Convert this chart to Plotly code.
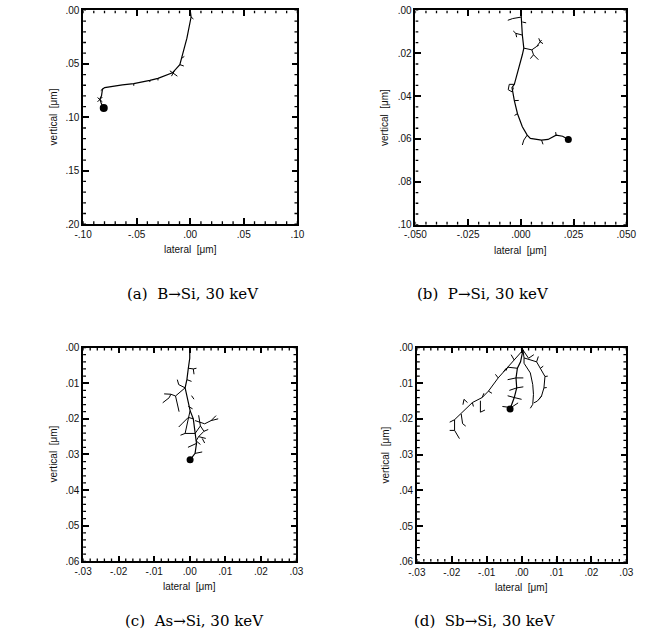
import plotly.graph_objects as go

# ---------------- data (µm) ----------------
# (a) B -> Si
a_path_x = [0.0, 0.0008, -0.0031, -0.0076, -0.0097, -0.0166, -0.0301, -0.0377, -0.0527, -0.0633, -0.0798, -0.0819, -0.0828, -0.0843, -0.0828, -0.0807]
a_path_y = [0.0, 0.0062, 0.026, 0.0445, 0.0507, 0.0584, 0.0636, 0.0654, 0.0685, 0.0697, 0.0722, 0.0737, 0.0799, 0.083, 0.0876, 0.0912]
a_branch_x = [[0.0008, 0.003], [-0.0076, -0.0055], [-0.0097, -0.006], [-0.019, -0.012], [-0.0175, -0.0145],
              [-0.0301, -0.0301], [-0.0377, -0.0377], [-0.0527, -0.0527], [-0.0865, -0.082], [-0.0865, -0.082], [-0.0819, -0.0835]]
a_branch_y = [[0.0062, 0.008], [0.0445, 0.043], [0.0507, 0.052], [0.0565, 0.0615], [0.0615, 0.056],
              [0.0636, 0.0655], [0.0654, 0.067], [0.0685, 0.0705], [0.0815, 0.0855], [0.0855, 0.081], [0.0737, 0.075]]
a_end = [-0.0807, 0.0912]

# (b) P -> Si
b_path_x = [0.0, 0.0002, 0.0007, 0.0014, 0.0007, -0.0031, -0.0042, -0.0031, -0.0016, 0.0007, 0.003, 0.0045, 0.0098, 0.0129, 0.0167, 0.0198, 0.0225]
b_path_y = [0.0, 0.0054, 0.0115, 0.0176, 0.0207, 0.0345, 0.036, 0.0421, 0.0482, 0.0543, 0.0582, 0.0597, 0.0605, 0.0602, 0.0582, 0.0587, 0.0602]
b_branch_x = [[0.0002, -0.0039, -0.0062], [0.0007, -0.0024, -0.0036], [-0.0024, -0.002],
              [0.0014, 0.0052, 0.0075, 0.0091, 0.0098], [0.0085, 0.0091, 0.0105], [0.0052, 0.006, 0.0083], [0.006, 0.0045],
              [0.003, 0.0014, 0.0007], [0.0098, 0.0105], [0.0167, 0.0165], [-0.0031, -0.001], [-0.0016, -0.003],
              [0.0007, 0.0025], [-0.0031, -0.0055, -0.006, -0.0042, -0.0035], [0.0075, 0.0085]]
b_branch_y = [[0.0031, 0.0038, 0.0046], [0.0115, 0.0107, 0.0096], [0.0107, 0.0125],
              [0.0176, 0.0184, 0.0168, 0.0146, 0.0138], [0.013, 0.0146, 0.0155], [0.0184, 0.0207, 0.023], [0.0207, 0.0225],
              [0.0582, 0.0605, 0.0628], [0.0605, 0.0625], [0.0582, 0.0568], [0.0421, 0.042], [0.0482, 0.049],
              [0.0054, 0.0058], [0.0345, 0.0345, 0.037, 0.038, 0.036], [0.0168, 0.0162]]
b_end = [0.0225, 0.0602]

# (c) As -> Si
c_path_x = [0.0, 0.0, -0.0004, -0.0008, -0.0013, -0.0004, 0.0001, 0.001, 0.0015, 0.0019, 0.0015, 0.0001]
c_path_y = [0.0, 0.003, 0.0058, 0.009, 0.0113, 0.015, 0.0177, 0.02, 0.0241, 0.0269, 0.0297, 0.0315]
c_branch_x = [[-0.0004, 0.001, 0.0019], [0.001, 0.0012], [-0.0013, -0.0031, -0.0035],
              [-0.0013, -0.004, -0.0053, -0.0072], [-0.0053, -0.0058, -0.0076], [-0.004, -0.0035, -0.003],
              [0.001, -0.0004, -0.0022, -0.0031], [0.0015, 0.0042, 0.006, 0.0074], [0.006, 0.008],
              [0.0001, -0.0008, -0.0013, -0.0026], [0.0015, 0.003, 0.004, 0.0025, 0.0045], [0.003, 0.0025],
              [-0.0013, 0.0015], [0.0019, -0.0005], [0.0015, 0.0035], [0.0025, 0.0018, 0.003],
              [0.004, 0.0052], [0.0035, 0.0042], [-0.0008, 0.0005], [0.0005, 0.0012], [-0.0004, 0.0008]]
c_branch_y = [[0.0058, 0.006, 0.0058], [0.006, 0.0075], [0.0113, 0.0104, 0.009],
              [0.0113, 0.0136, 0.0131, 0.013], [0.0131, 0.0141, 0.0155], [0.0136, 0.016, 0.018],
              [0.02, 0.0196, 0.0214, 0.0223], [0.0205, 0.0214, 0.0205, 0.0191], [0.0205, 0.02],
              [0.0177, 0.0214, 0.0241, 0.0246], [0.0241, 0.022, 0.0235, 0.025, 0.0255], [0.022, 0.019],
              [0.0241, 0.0241], [0.0269, 0.028], [0.0297, 0.0293], [0.025, 0.0262, 0.0272],
              [0.0235, 0.023], [0.0255, 0.0268], [0.009, 0.0095], [0.0135, 0.0145], [0.0165, 0.0172]]
c_end = [0.0001, 0.0315]

# (d) Sb -> Si
d_path_x = [0.0, 0.0004, -0.0003, -0.0012, -0.0016, -0.0014, -0.0021, -0.003, -0.0033]
d_path_y = [0.0, 0.0007, 0.004, 0.0058, 0.0085, 0.0113, 0.014, 0.0168, 0.0172]
d_branch_x = [[0.0004, -0.0021, -0.0044, -0.0067, -0.0095, -0.0113, -0.0141, -0.0173, -0.0192, -0.0192, -0.0178],
              [0.0004, 0.0007, 0.0043, 0.0054, 0.0067, 0.0064, 0.0057, 0.0045],
              [0.0007, 0.0007, 0.0025, 0.0032, 0.0034, 0.0032, 0.0025],
              [-0.0155, -0.0165, -0.0168], [-0.0118, -0.0118, -0.0105], [-0.0173, -0.0169, -0.016],
              [-0.0192, -0.0206], [-0.0192, -0.0206], [-0.0095, -0.0085], [-0.0067, -0.0075],
              [-0.0012, -0.004, -0.0045], [-0.0016, -0.004], [-0.0016, 0.0005], [-0.0014, -0.0035], [-0.0014, 0.0005],
              [-0.0021, 0.0], [-0.0021, -0.004], [-0.003, -0.0055], [-0.003, -0.001],
              [0.0004, 0.002, 0.0035], [-0.0021, -0.003], [0.0043, 0.0048],
              [0.0067, 0.0075], [0.0064, 0.0072], [0.0057, 0.005], [0.0045, 0.0035], [0.0054, 0.0062],
              [-0.0044, -0.0052], [-0.0113, -0.0108], [-0.0141, -0.0138]]
d_branch_y = [[0.0007, 0.0035, 0.0058, 0.0085, 0.0122, 0.014, 0.0154, 0.0186, 0.0202, 0.0232, 0.0255],
              [0.0007, 0.0029, 0.004, 0.0058, 0.0081, 0.0113, 0.0136, 0.015],
              [0.0029, 0.0044, 0.0071, 0.0104, 0.0131, 0.0159, 0.017],
              [0.0154, 0.0145, 0.016], [0.0149, 0.0181, 0.0175], [0.0186, 0.0213, 0.022],
              [0.0202, 0.0209], [0.0232, 0.0232], [0.0122, 0.0128], [0.0085, 0.0075],
              [0.0058, 0.0055, 0.0065], [0.0085, 0.009], [0.0085, 0.0085], [0.0113, 0.012], [0.0113, 0.011],
              [0.014, 0.0145], [0.014, 0.0135], [0.0168, 0.0165], [0.0168, 0.0155],
              [0.0007, 0.003, 0.002], [0.0035, 0.002], [0.004, 0.0025],
              [0.0081, 0.008], [0.0113, 0.0112], [0.0136, 0.0145], [0.015, 0.0155], [0.0058, 0.0052],
              [0.0058, 0.0068], [0.014, 0.0128], [0.0154, 0.0165]]
d_end = [-0.0033, 0.0172]

# axes ticks
a_xticks = [-0.1, -0.05, 0.0, 0.05, 0.1]
a_xtext = ["-.10", "-.05", ".00", ".05", ".10"]
a_yticks = [0.0, 0.05, 0.1, 0.15, 0.2]
a_ytext = [".00", ".05", ".10", ".15", ".20"]
b_xticks = [-0.05, -0.025, 0.0, 0.025, 0.05]
b_xtext = ["-.050", "-.025", ".000", ".025", ".050"]
b_yticks = [0.0, 0.02, 0.04, 0.06, 0.08, 0.1]
b_ytext = [".00", ".02", ".04", ".06", ".08", ".10"]
cd_xticks = [-0.03, -0.02, -0.01, 0.0, 0.01, 0.02, 0.03]
cd_xtext = ["-.03", "-.02", "-.01", ".00", ".01", ".02", ".03"]
cd_yticks = [0.0, 0.01, 0.02, 0.03, 0.04, 0.05, 0.06]
cd_ytext = [".00", ".01", ".02", ".03", ".04", ".05", ".06"]
minor_steps = [0.01, 0.005, 0.002, 0.002]

captions = ["(a)  B\u2192Si, 30 keV", "(b)  P\u2192Si, 30 keV", "(c)  As\u2192Si, 30 keV", "(d)  Sb\u2192Si, 30 keV"]

# ---------------- figure ----------------
W, H = 646, 643
MINOR_LEN = 3
def px(x):
    return x / W
def py(y):
    return 1 - y / H

panels = [
    dict(path=(a_path_x, a_path_y), br=(a_branch_x, a_branch_y), end=a_end,
         xt=(a_xticks, a_xtext), yt=(a_yticks, a_ytext), box=(74.5, 296, 4.5, 222), ms=8),
    dict(path=(b_path_x, b_path_y), br=(b_branch_x, b_branch_y), end=b_end,
         xt=(b_xticks, b_xtext), yt=(b_yticks, b_ytext), box=(418, 636, 4.5, 222.5), ms=7),
    dict(path=(c_path_x, c_path_y), br=(c_branch_x, c_branch_y), end=c_end,
         xt=(cd_xticks, cd_xtext), yt=(cd_yticks, cd_ytext), box=(74.5, 295, 347.5, 565), ms=7),
    dict(path=(d_path_x, d_path_y), br=(d_branch_x, d_branch_y), end=d_end,
         xt=(cd_xticks, cd_xtext), yt=(cd_yticks, cd_ytext), box=(419.5, 636, 347.5, 565.5), ms=7),
]

def steps(lo, hi, step):
    n = int(round((hi - lo) / step))
    return [lo + k * step for k in range(n + 1)]

fig = go.Figure()
tickfont = dict(family="Liberation Sans, Arial, sans-serif", size=10, color="#111")
annotations = []
for i, p in enumerate(panels):
    n = "" if i == 0 else str(i + 1)
    xa, ya = "x" + n, "y" + n
    x0, x1, y0, y1 = p["box"]
    xv, xtxt = p["xt"]
    yv, ytxt = p["yt"]
    xlo, xhi = xv[0], xv[-1]
    ylo, yhi = yv[0], yv[-1]          # ylo at top (axis reversed)
    step = minor_steps[i]
    ux = (xhi - xlo) / (x1 - x0)      # data units per pixel
    uy = (yhi - ylo) / (y1 - y0)

    bx, by = [], []
    for sx, sy in zip(*p["br"]):
        bx += sx + [None]
        by += sy + [None]
    fig.add_trace(go.Scatter(x=bx, y=by, mode="lines", line=dict(color="black", width=1),
                             xaxis=xa, yaxis=ya, showlegend=False, hoverinfo="skip"))
    fig.add_trace(go.Scatter(x=p["path"][0], y=p["path"][1], mode="lines", line=dict(color="black", width=1.2),
                             xaxis=xa, yaxis=ya, showlegend=False))
    fig.add_trace(go.Scatter(x=[p["end"][0]], y=[p["end"][1]], mode="markers",
                             marker=dict(color="black", size=p["ms"]), xaxis=xa, yaxis=ya, showlegend=False))

    # minor tick marks on all four sides (inside)
    tx, ty = [], []
    for v in steps(xlo, xhi, step):
        tx += [v, v, None, v, v, None]
        ty += [yhi, yhi - MINOR_LEN * uy, None, ylo, ylo + MINOR_LEN * uy, None]
    for v in steps(ylo, yhi, step):
        tx += [xlo, xlo + MINOR_LEN * ux, None, xhi, xhi - MINOR_LEN * ux, None]
        ty += [v, v, None, v, v, None]
    fig.add_trace(go.Scatter(x=tx, y=ty, mode="lines", line=dict(color="black", width=1.3, simplify=False),
                             xaxis=xa, yaxis=ya, showlegend=False, hoverinfo="skip"))

    common = dict(showline=True, linecolor="black", linewidth=1.5, mirror="allticks",
                  ticks="inside", ticklen=6, tickwidth=1.5, tickcolor="black",
                  showgrid=False, zeroline=False, tickfont=tickfont)
    fig.update_layout(**{
        "xaxis" + n: dict(domain=[px(x0), px(x1)], range=[xlo, xhi], anchor=ya,
                          tickvals=xv, ticktext=xtxt, **common),
        "yaxis" + n: dict(domain=[py(y1), py(y0)], range=[yhi, ylo], anchor=xa,
                          tickvals=yv, ticktext=ytxt, **common),
    })
    cx = (x0 + x1) / 2
    annotations.append(dict(text="lateral  [\u03bcm]", x=px(cx), y=py(y1 + 26), xref="paper", yref="paper",
                            showarrow=False, font=dict(family="Liberation Sans, Arial, sans-serif", size=10, color="#111"),
                            xanchor="center", yanchor="middle"))
    annotations.append(dict(text="vertical  [\u03bcm]", x=px(x0 - 31 if i % 2 == 0 else x0 - 32), y=py((y0 + y1) / 2),
                            xref="paper", yref="paper", textangle=-90,
                            showarrow=False, font=dict(family="Liberation Sans, Arial, sans-serif", size=10, color="#111"),
                            xanchor="center", yanchor="middle"))

cap_pos = [(188, 293), (488, 293), (190, 626), (490, 626)]
for t, (cx, cy) in zip(captions, cap_pos):
    annotations.append(dict(text=t, x=px(cx), y=py(cy), xref="paper", yref="paper", showarrow=False,
                            font=dict(family="DejaVu Serif, Liberation Serif, serif", size=15, color="black"),
                            xanchor="center", yanchor="middle"))

fig.update_layout(width=W, height=H, margin=dict(l=0, r=0, t=0, b=0), paper_bgcolor="white",
                  plot_bgcolor="white", annotations=annotations, showlegend=False)

fig.write_html("out.html", config={"displayModeBar": False})
